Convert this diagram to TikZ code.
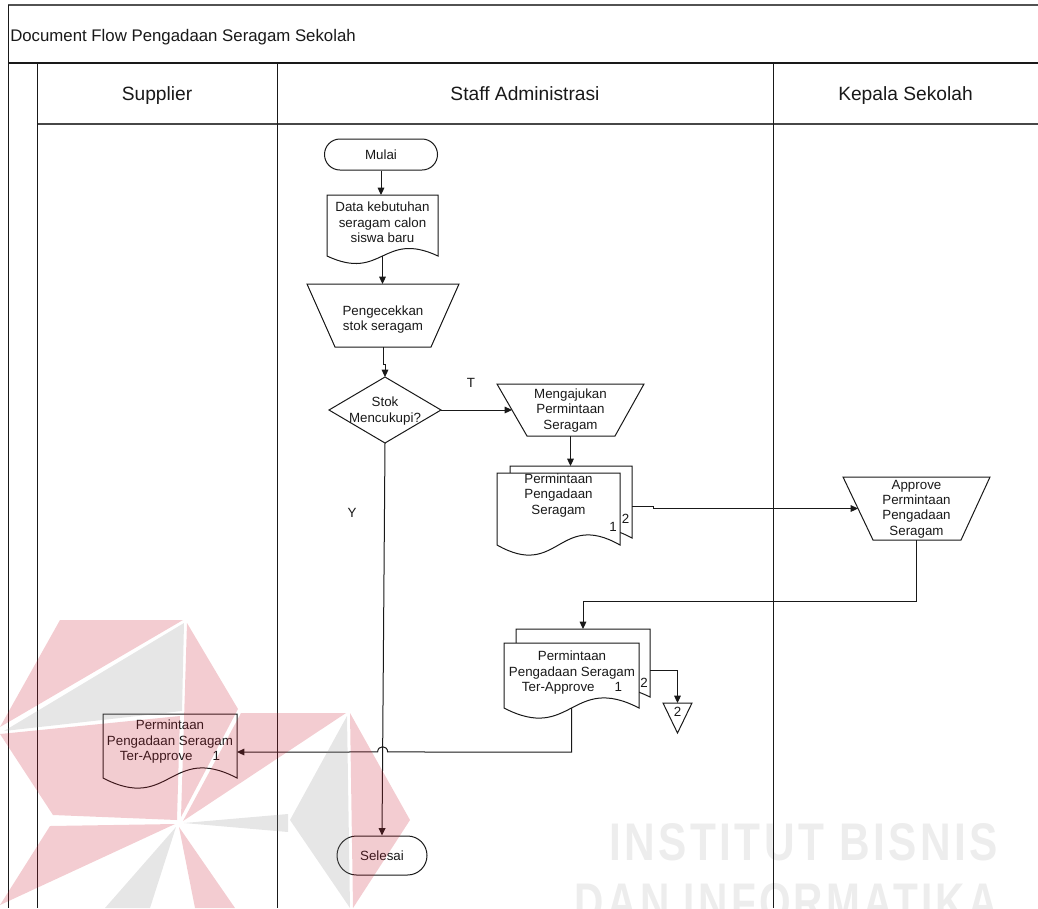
\documentclass[tikz,border=0pt]{standalone}
\usepackage{fontspec}
\setmainfont{Liberation Sans}
\newfontfamily\wmfont{Liberation Sans}[LetterSpace=8]
\usepackage{graphicx}
\usetikzlibrary{arrows.meta,calc}

\definecolor{ink}{RGB}{25,25,25}
\definecolor{wmred}{RGB}{200,25,45}
\definecolor{wmgray}{RGB}{140,140,140}
\definecolor{wmtext}{RGB}{237,237,237}

\tikzset{
  ln/.style={draw=ink, line width=0.75pt},
  arr/.style={ln, -{Triangle[length=5.5pt,width=5pt]}},
  txt/.style={font=\fontsize{10}{11.6}\selectfont, align=center, inner sep=0pt, text=ink},
  head/.style={font=\fontsize{14.4}{16}\selectfont, inner sep=0pt, text=ink},
  titletxt/.style={font=\fontsize{12.6}{15}\selectfont, inner sep=0pt, text=ink},
  area/.style 2 args={rectangle, inner sep=0pt, outer sep=0pt,
    minimum width=#1*0.75pt, minimum height=#2*0.75pt},
  terminal/.style={ln, fill=white, rectangle, txt}
}

% manual operation: top edge full width, bottom edge inset on both sides
\newcommand\manualop[3]{%
  \draw[ln, fill=white] (#1.north west) -- (#1.north east)
    -- ($(#1.south east)+(-#3,0)$) -- ($(#1.south west)+(#2,0)$) -- cycle;}
% document: straight top and sides, wavy bottom through the south anchor
\newcommand\docshape[2]{%
  \draw[ln, fill=white] (#1.south west) -- (#1.north west) -- (#1.north east)
    -- (#1.south east) .. controls ($(#1.south)+(0,-#2)$) and ($(#1.south)+(0,#2)$) .. cycle;}

\begin{document}
\begin{tikzpicture}[x=0.75pt,y=-0.75pt]
\clip (0,0) rectangle (1038,908);

% watermark lettering
\node[anchor=north east, inner sep=0pt, text=wmtext] (wm1) at (998,823)
  {\resizebox{291pt}{27.75pt}{\wmfont\bfseries INSTITUT BISNIS}};
\node[anchor=north east, inner sep=0pt, text=wmtext] (wm2) at (998,883)
  {\resizebox{317pt}{27.75pt}{\wmfont\bfseries DAN INFORMATIKA}};

% frame and swimlanes
\draw[draw=ink!75, line width=0.9pt] (8,5) -- (1038,5);
\draw[ln] (8,5) -- (8,908);
\draw[draw=ink, line width=2pt] (8,63) -- (1038,63);
\draw[draw=ink!80, line width=0.9pt] (37,124) -- (1038,124);
\foreach \lx in {37,277,773} \draw[ln] (\lx,63) -- (\lx,908);

\node[titletxt, anchor=base west] (title) at (10,41) {Document Flow Pengadaan Seragam Sekolah};
\node[head, anchor=base] (hsup) at (157,100) {Supplier};
\node[head, anchor=base] (hstaff) at (525,100) {Staff Administrasi};
\node[head, anchor=base] (hkep) at (905.5,100) {Kepala Sekolah};

% start / end
\node[terminal, rounded corners=11.6pt, minimum width=113*0.75pt, minimum height=31*0.75pt] (mulai) at (381,154.5) {Mulai};
\node[terminal, rounded corners=14.6pt, minimum width=90*0.75pt, minimum height=39*0.75pt] (end) at (382,855.5) {Selesai};

% shape areas
\node[area={111}{61}] (doc1) at (382.5,225.5) {};
\node[area={152}{63}] (chk) at (383,315.5) {};
\node[area={112}{66}] (dec) at (385,410) {};
\node[area={147}{52}] (mng) at (570.5,410) {};
\node[area={122}{72}] (st1b) at (571,502) {};
\node[area={123}{72}] (st1f) at (558.5,509) {};
\node[area={147}{63}] (apv) at (916.5,508.5) {};
\node[area={134}{68}] (st2b) at (583,663) {};
\node[area={135}{65}] (st2f) at (571.5,675.5) {};
\node[area={29}{30}] (off) at (677.5,718) {};
\node[area={134}{64}] (sup) at (170,746) {};

% outlines
\docshape{doc1}{26}
\manualop{chk}{28}{28}
\draw[ln, fill=white] (dec.north) -- (dec.east) -- (dec.south) -- (dec.west) -- cycle;
\manualop{mng}{30}{29}
\docshape{st1b}{33}
\docshape{st1f}{35}
\manualop{apv}{30}{29}
\docshape{st2b}{33}
\docshape{st2f}{35}
\draw[ln, fill=white] (off.north west) -- (off.north east) -- (off.south) -- cycle;
\docshape{sup}{35}

% texts inside the shapes
\node[txt] (tdoc1) at (382.5,222.5) {Data kebutuhan\\seragam calon\\siswa baru};
\node[txt] (tchk) at (383,319.5) {Pengecekkan\\stok seragam};
\node[txt] (tdec) at (385,411) {Stok\\Mencukupi?};
\node[txt] (tmng) at (570.5,410.5) {Mengajukan\\Permintaan\\Seragam};
\node[txt] (tst1) at (558.5,495.5) {Permintaan\\Pengadaan\\Seragam};
\node[txt] (n1a) at (613,527) {1};
\node[txt] (n2a) at (625.5,519) {2};
\node[txt] (tapv) at (916.5,509) {Approve\\Permintaan\\Pengadaan\\Seragam};
\node[txt] (tst2) at (572,673) {Permintaan\\Pengadaan Seragam\\Ter-Approve\hspace{15pt}1};
\node[txt] (n2b) at (644,683) {2};
\node[txt] (toff) at (677.5,712) {2};
\node[txt] (tsup) at (170,742) {Permintaan\\Pengadaan Seragam\\Ter-Approve\hspace{15pt}1};

% branch labels
\node[txt] (lT) at (471,383) {T};
\node[txt] (lY) at (352,513) {Y};

% connectors
\coordinate (mngL) at ($(mng.west)+(15,0)$);
\coordinate (apvL) at ($(apv.west)+(15,0)$);
\coordinate (tgt) at ($(sup.north east)+(0,38)$);
\coordinate (turn) at (st2f.south |- tgt);
\coordinate (hop) at (intersection of dec.south--end.north and turn--tgt);

\draw[arr] (mulai.south) -- (mulai.south |- doc1.north);
\draw[arr] (doc1.south) -- (doc1.south |- chk.north);
\draw[arr] (chk.south) -- ++(0,17) -| (dec.north);
\draw[arr] (dec.east) -- (mngL);
\draw[arr] (dec.south) -- (end.north);
\draw[arr] (mng.south) -- (mng.south |- st1b.north);
\draw[arr] ($(st1b.north east)+(0,40)$) -- ++(21,0) |- (apvL);
\draw[arr] (apv.south) -- ++(0,61) -| (st2b.north);
\draw[arr] ($(st2b.north east)+(0,41)$) -| (off.north);
\draw[arr] (st2f.south) -- (turn) -- ($(hop)+(5,0)$)
  .. controls +(0,-7) and +(0,-7) .. ($(hop)+(-5,0)$) -- (tgt);

% watermark emblem
\begin{scope}[fill opacity=0.22]
  \fill[wmred] (60,620) -- (183,620) -- (0,727) -- cycle;
  \fill[wmgray] (184,623) -- (182,711) -- (4,731) -- cycle;
  \fill[wmred] (0,734) -- (180,716) -- (177,820) -- (53,815) -- cycle;
  \fill[wmred] (187,623) -- (238,709) -- (181,817) -- cycle;
  \fill[wmred] (241,713) -- (346,713) -- (183,821) -- cycle;
  \fill[wmgray] (347,716) -- (350,908) -- (290,820) -- cycle;
  \fill[wmred] (350,713) -- (410,820) -- (353,908) -- cycle;
  \fill[wmgray] (184,823) -- (288,814) -- (288,832) -- cycle;
  \fill[wmred] (50,826) -- (175,824) -- (0,905) -- cycle;
  \fill[wmgray] (176,827) -- (150,908) -- (105,908) -- cycle;
  \fill[wmred] (179,827) -- (235,908) -- (195,908) -- cycle;
\end{scope}
\end{tikzpicture}
\end{document}
